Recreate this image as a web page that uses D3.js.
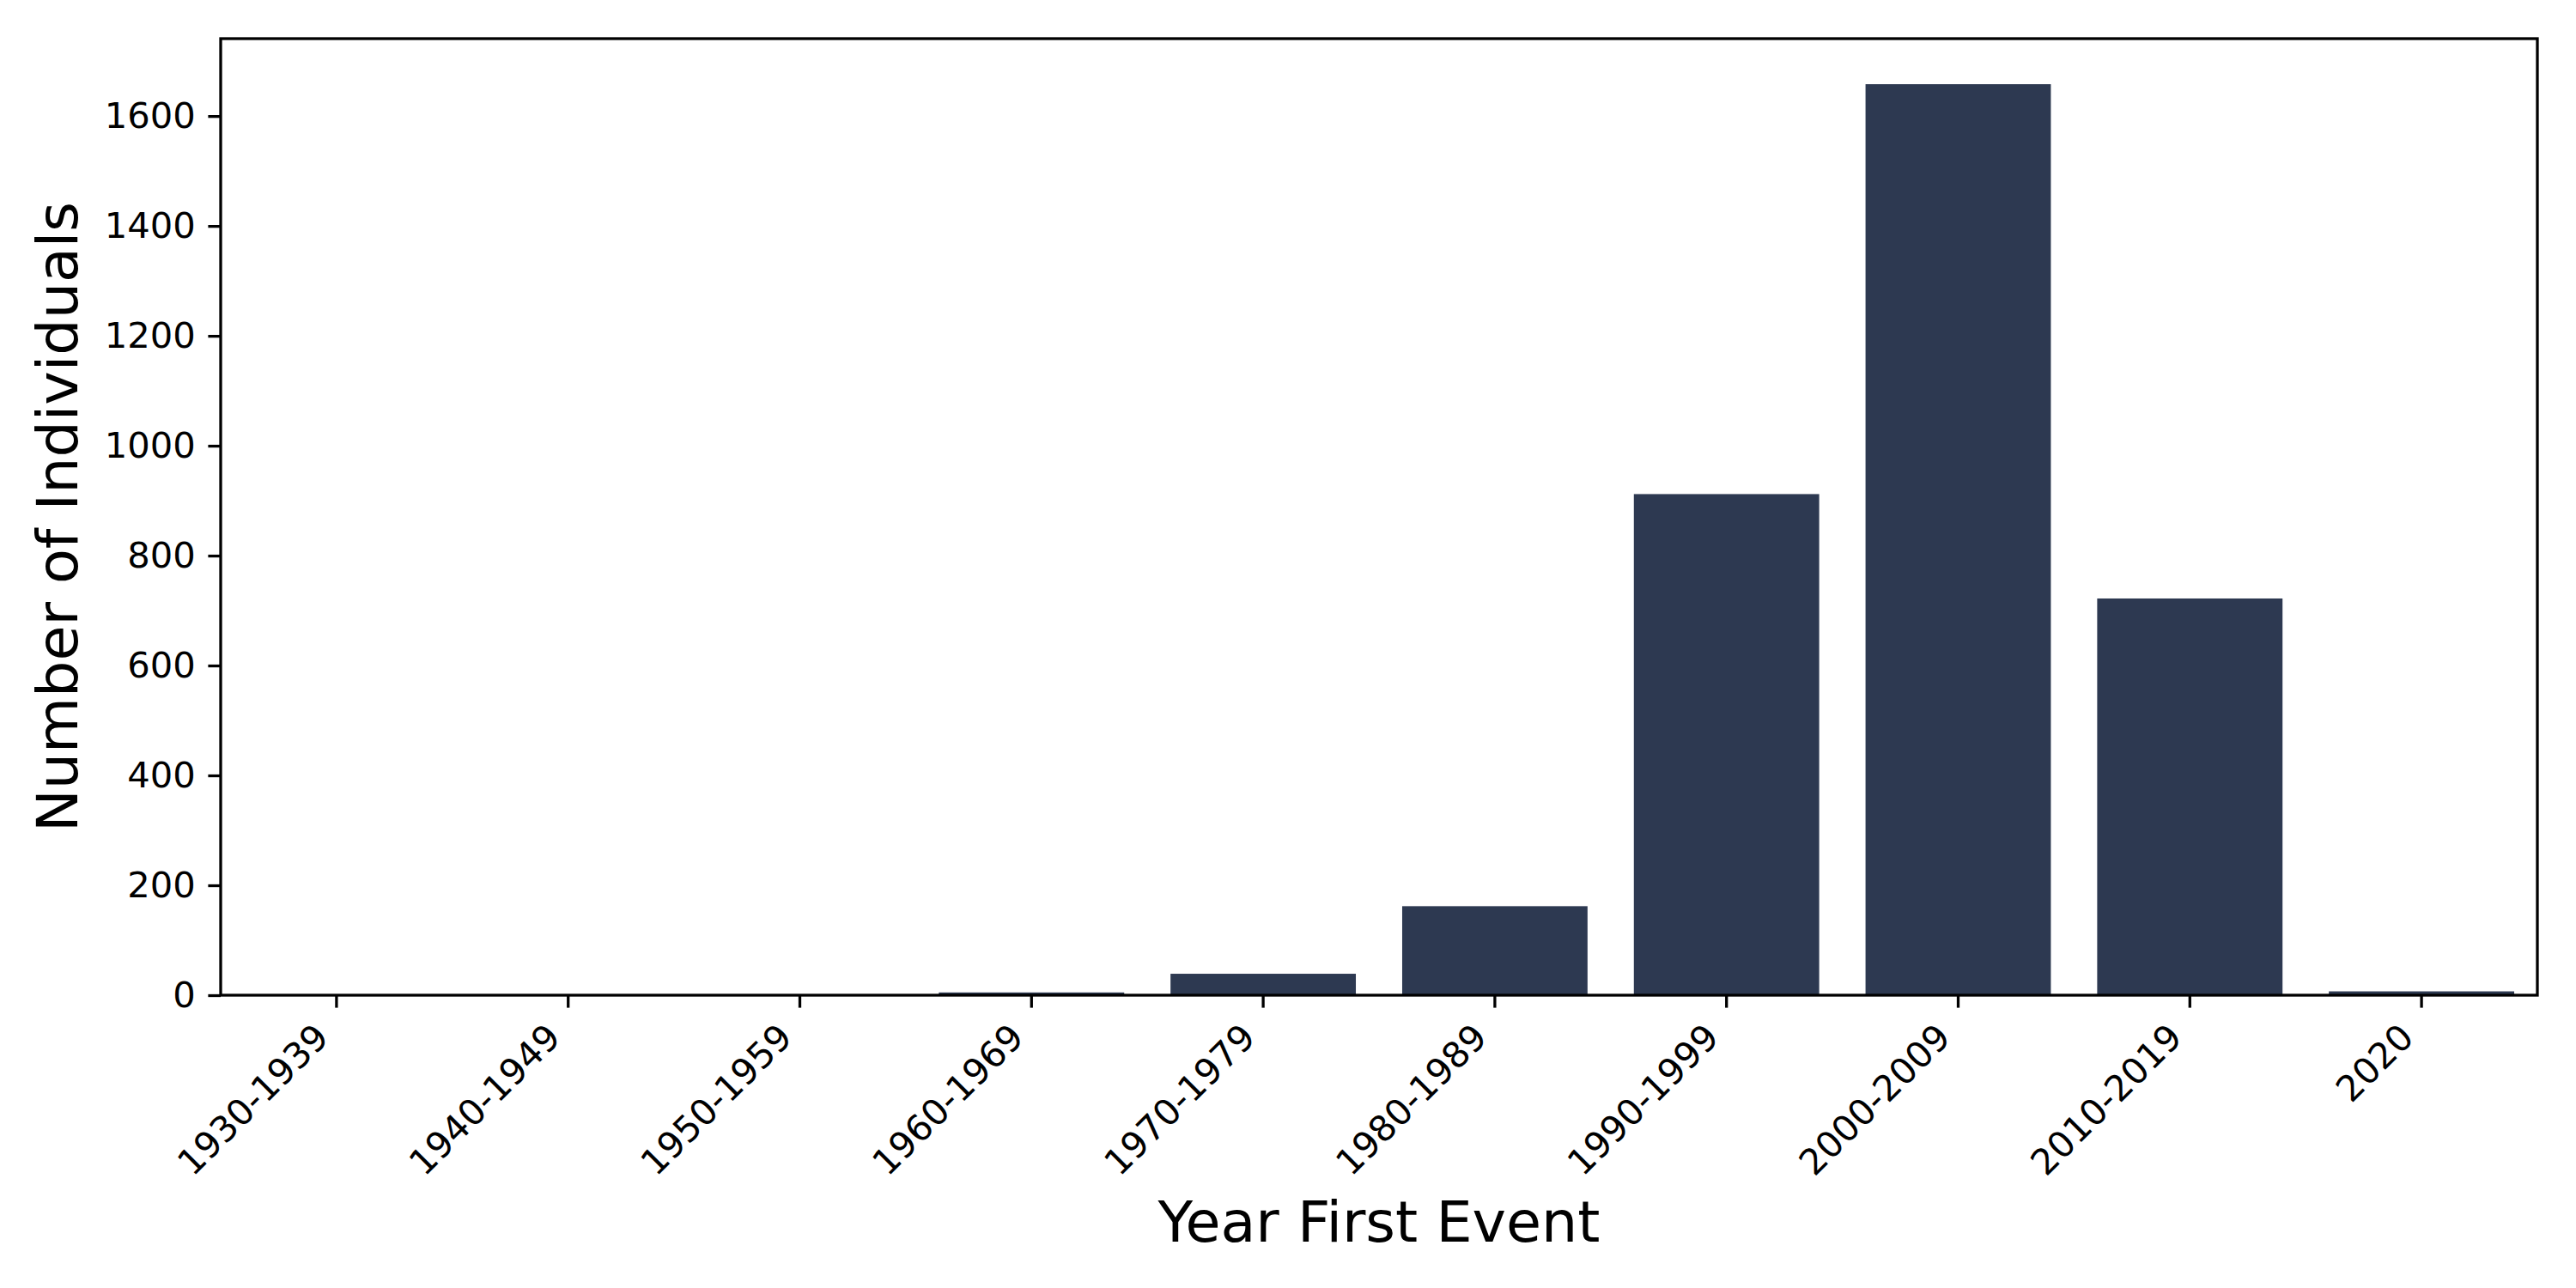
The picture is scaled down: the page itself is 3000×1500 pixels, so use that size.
<!DOCTYPE html>
<html>
<head>
<meta charset="utf-8">
<script src="https://cdn.jsdelivr.net/npm/d3@7"></script>
<style>
  body { margin: 0; background: #fff; }
  text { font-family: "DejaVu Sans", sans-serif; }
</style>
</head>
<body>
<script>
// decades of first event and how many individuals
var categories = ["1930-1939", "1940-1949", "1950-1959", "1960-1969", "1970-1979",
                  "1980-1989", "1990-1999", "2000-2009", "2010-2019", "2020"];
var counts = [1, 1, 1, 5, 39, 162, 912, 1658, 722, 7];
var yTicks = [0, 200, 400, 600, 800, 1000, 1200, 1400, 1600];

var width = 3000;
var height = 1500;
// note: "top" is a read-only global in browsers, so use plot* names
var plotLeft = 257, plotRight = 2955, plotTop = 45, plotBottom = 1159;
var tickFont = 41.7;
var labelFont = 66.7;
var tickLen = 14.6;
var barColor = "#2d3951";

var svg = d3.select("body")
  .append("svg")
  .attr("width", width)
  .attr("height", height);

var xScale = d3.scaleBand()
  .domain(categories)
  .range([plotLeft, plotRight])
  .paddingInner(0.2)
  .paddingOuter(0.1);

var yScale = d3.scaleLinear()
  .domain([0, d3.max(counts) * 1.05])
  .range([plotBottom, plotTop]);

// bars
svg.append("g")
  .selectAll("rect")
  .data(counts)
  .enter()
  .append("rect")
  .attr("x", (d, i) => xScale(categories[i]))
  .attr("y", d => yScale(d))
  .attr("width", xScale.bandwidth())
  .attr("height", d => plotBottom - yScale(d))
  .attr("fill", barColor);

// y axis
var yAxis = d3.axisLeft(yScale)
  .tickValues(yTicks)
  .tickSize(tickLen)
  .tickPadding(tickLen)
  .tickFormat(d3.format("d"));

var gy = svg.append("g")
  .attr("transform", "translate(" + plotLeft + ",0)")
  .call(yAxis);
gy.select(".domain").remove();
gy.selectAll(".tick line").attr("stroke", "#000").attr("stroke-width", 3.3);
gy.selectAll(".tick text")
  .attr("fill", "#000")
  .style("font-size", tickFont + "px")
  .style("font-family", "DejaVu Sans");

// x axis, labels rotated 45 deg and right-aligned under the tick
var xAxis = d3.axisBottom(xScale).tickSize(tickLen).tickPadding(0);
var gx = svg.append("g")
  .attr("transform", "translate(0," + plotBottom + ")")
  .call(xAxis);
gx.select(".domain").remove();
gx.selectAll(".tick line").attr("stroke", "#000").attr("stroke-width", 3.3);
gx.selectAll(".tick text")
  .attr("fill", "#000")
  .style("font-size", tickFont + "px")
  .style("font-family", "DejaVu Sans")
  .attr("text-anchor", "end")
  .attr("dy", 0)
  .attr("y", 0)
  .attr("transform", "translate(" + (-0.707 * 0.23 * tickFont) + "," + (2 * tickLen + 0.707 * 0.76 * tickFont) + ") rotate(-45)");

// frame
svg.append("rect")
  .attr("x", plotLeft)
  .attr("y", plotTop)
  .attr("width", plotRight - plotLeft)
  .attr("height", plotBottom - plotTop)
  .attr("fill", "none")
  .attr("stroke", "#000")
  .attr("stroke-width", 3.3);

// axis titles
svg.append("text")
  .attr("x", (plotLeft + plotRight) / 2)
  .attr("y", 1446)
  .attr("text-anchor", "middle")
  .style("font-size", labelFont + "px")
  .text("Year First Event");

svg.append("text")
  .attr("transform", "translate(90," + ((plotTop + plotBottom) / 2) + ") rotate(-90)")
  .attr("text-anchor", "middle")
  .style("font-size", labelFont + "px")
  .text("Number of Individuals");
</script>
</body>
</html>
